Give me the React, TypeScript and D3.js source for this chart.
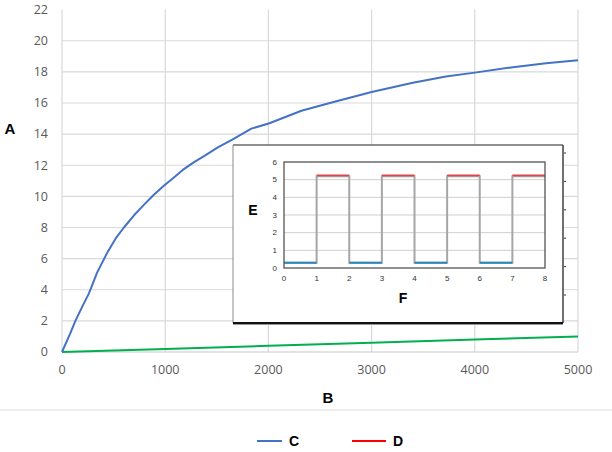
import React from 'react';
import * as d3 from 'd3';

// main chart series
const cX = [0, 80, 130, 195, 260, 340, 440, 520, 600, 700, 800, 890, 990, 1090, 1170, 1280, 1380, 1510, 1650, 1835, 2010, 2320, 2650, 3000, 3400, 3720, 4000, 4370, 4690, 5000];
const cY = [0, 1.2, 2.0, 2.9, 3.75, 5.1, 6.4, 7.3, 8.0, 8.8, 9.5, 10.1, 10.7, 11.25, 11.7, 12.2, 12.6, 13.15, 13.65, 14.35, 14.7, 15.5, 16.1, 16.7, 17.3, 17.7, 17.95, 18.3, 18.55, 18.75];
const gX = [0, 1000, 2000, 3000, 4000, 5000];
const gY = [0, 0.2, 0.4, 0.6, 0.8, 1.0];
const xTicks = [0, 1000, 2000, 3000, 4000, 5000];
const yTicks = [0, 2, 4, 6, 8, 10, 12, 14, 16, 18, 20, 22];

// inset square wave
const insetEdges = [0, 1, 2, 3, 4, 5, 6, 7, 8];
const insetLevels = [0.3, 5.2, 0.3, 5.2, 0.3, 5.2, 0.3, 5.2];
const insetXTicks = [0, 1, 2, 3, 4, 5, 6, 7, 8];
const insetYTicks = [0, 1, 2, 3, 4, 5, 6];

const legendItems = [
  { name: 'C', color: '#4472c4' },
  { name: 'D', color: '#ff0000' },
];

const tickFont = '"Open Sans", "Noto Sans", sans-serif';
const boldFont = '"Liberation Sans", Arial, sans-serif';

export default function App() {
  const x = d3.scaleLinear().domain([0, 5000]).range([62, 578]);
  const y = d3.scaleLinear().domain([0, 22]).range([352, 9.6]);

  const ix = d3.scaleLinear().domain([0, 8]).range([284, 545]);
  const iy = d3.scaleLinear().domain([0, 6]).range([268, 162]);

  const line = d3.line<[number, number]>().x(d => x(d[0])).y(d => y(d[1]));
  const cPath = line(cX.map((v, i) => [v, cY[i]]));
  const gPath = line(gX.map((v, i) => [v, gY[i]]));

  // gray step line through the whole wave
  const stepPts: [number, number][] = [];
  insetLevels.forEach((lv, i) => {
    stepPts.push([insetEdges[i], lv]);
    stepPts.push([insetEdges[i + 1], lv]);
  });
  const stepPath = d3.line<[number, number]>().x(d => ix(d[0])).y(d => iy(d[1]))(stepPts);

  const box = { x0: 233, y0: 145, x1: 563, y1: 323 };

  return (
    <svg width={612} height={452} style={{ position: 'absolute', left: 0, top: 0, background: '#fff' }}>
      {/* main grid */}
      {yTicks.filter(t => t > 0 && t < 22).map(t => (
        <line key={'hy' + t} x1={x(0)} x2={x(5000)} y1={y(t)} y2={y(t)} stroke="#d9d9d9" strokeWidth={1.2} />
      ))}
      {xTicks.map(t => (
        <line key={'vx' + t} x1={x(t)} x2={x(t)} y1={y(22)} y2={y(0)} stroke="#d9d9d9" strokeWidth={1.2} />
      ))}
      <line x1={x(0)} x2={x(5000)} y1={y(0)} y2={y(0)} stroke="#c8c8c8" strokeWidth={1.2} />

      {/* tick labels */}
      {yTicks.map(t => (
        <text key={'yl' + t} x={48} y={y(t)} dy="0.35em" textAnchor="end" fontFamily={tickFont} fontSize={12.5} fill="#595959">{t}</text>
      ))}
      {xTicks.map(t => (
        <text key={'xl' + t} x={x(t)} y={374} textAnchor="middle" fontFamily={tickFont} fontSize={12.5} fill="#595959">{t}</text>
      ))}

      {/* series */}
      <path d={gPath ?? ''} fill="none" stroke="#00b050" strokeWidth={2} />
      <path d={cPath ?? ''} fill="none" stroke="#4472c4" strokeWidth={2} strokeLinejoin="round" />

      {/* axis titles */}
      <text x={10} y={134} textAnchor="middle" fontFamily={boldFont} fontWeight="bold" fontSize={15}>A</text>
      <text x={328} y={403} textAnchor="middle" fontFamily={boldFont} fontWeight="bold" fontSize={15}>B</text>

      {/* inset picture */}
      <rect x={box.x0} y={box.y0} width={box.x1 - box.x0} height={box.y1 - box.y0} fill="#fff" />
      <line x1={box.x0} x2={box.x1} y1={box.y0} y2={box.y0} stroke="#6a6a6a" strokeWidth={1.5} />
      <line x1={box.x0} x2={box.x0} y1={box.y0} y2={box.y1} stroke="#8a8a8a" strokeWidth={1} />
      <line x1={box.x1} x2={box.x1} y1={box.y0} y2={box.y1} stroke="#222" strokeWidth={1.3} />
      <line x1={box.x0} x2={box.x1} y1={box.y1} y2={box.y1} stroke="#111" strokeWidth={2} />
      <line x1={box.x0} x2={box.x1} y1={box.y1 + 1.5} y2={box.y1 + 1.5} stroke="#999" strokeWidth={1} />
      {d3.range(6).map(i => (
        <line key={'rt' + i} x1={box.x1 + 1} x2={box.x1 + 3} y1={153 + i * 28.4} y2={153 + i * 28.4} stroke="#333" strokeWidth={1} />
      ))}

      {insetYTicks.filter(t => t > 0 && t < 6).map(t => (
        <line key={'ig' + t} x1={ix(0)} x2={ix(8)} y1={iy(t)} y2={iy(t)} stroke="#cfcfcf" strokeWidth={1} />
      ))}
      <path d={stepPath ?? ''} fill="none" stroke="#a6a6a6" strokeWidth={2} />
      {insetLevels.map((lv, i) => (
        <line key={'seg' + i}
          x1={ix(insetEdges[i])} x2={ix(insetEdges[i + 1])}
          y1={iy(lv) - (lv > 1 ? 0.8 : 0)} y2={iy(lv) - (lv > 1 ? 0.8 : 0)}
          stroke={lv > 1 ? '#d9474b' : '#2a86c2'} strokeWidth={lv > 1 ? 1.8 : 2} />
      ))}
      <rect x={ix(0)} y={iy(6)} width={ix(8) - ix(0)} height={iy(0) - iy(6)} fill="none" stroke="#555" strokeWidth={1.3} />

      {insetYTicks.map(t => (
        <text key={'iyl' + t} x={277} y={iy(t)} dy="0.35em" textAnchor="end" fontFamily="Arial, 'Liberation Sans', sans-serif" fontSize={8} fill="#333">{t}</text>
      ))}
      {insetXTicks.map(t => (
        <text key={'ixl' + t} x={ix(t)} y={281} textAnchor="middle" fontFamily="Arial, 'Liberation Sans', sans-serif" fontSize={8} fill="#333">{t}</text>
      ))}
      <text x={253} y={215} textAnchor="middle" fontFamily={boldFont} fontWeight="bold" fontSize={14}>E</text>
      <text x={403} y={303} textAnchor="middle" fontFamily={boldFont} fontWeight="bold" fontSize={14}>F</text>

      {/* separator + legend */}
      <line x1={0} x2={612} y1={410} y2={410} stroke="#d9d9d9" strokeWidth={1.2} />
      {legendItems.map((d, i) => {
        const lx = i === 0 ? 257 : 352;
        const len = i === 0 ? 25 : 34;
        return (
          <g key={d.name}>
            <line x1={lx} x2={lx + len} y1={441} y2={441} stroke={d.color} strokeWidth={2} />
            <text x={lx + len + 7} y={446} fontFamily={boldFont} fontWeight="bold" fontSize={14}>{d.name}</text>
          </g>
        );
      })}
    </svg>
  );
}
